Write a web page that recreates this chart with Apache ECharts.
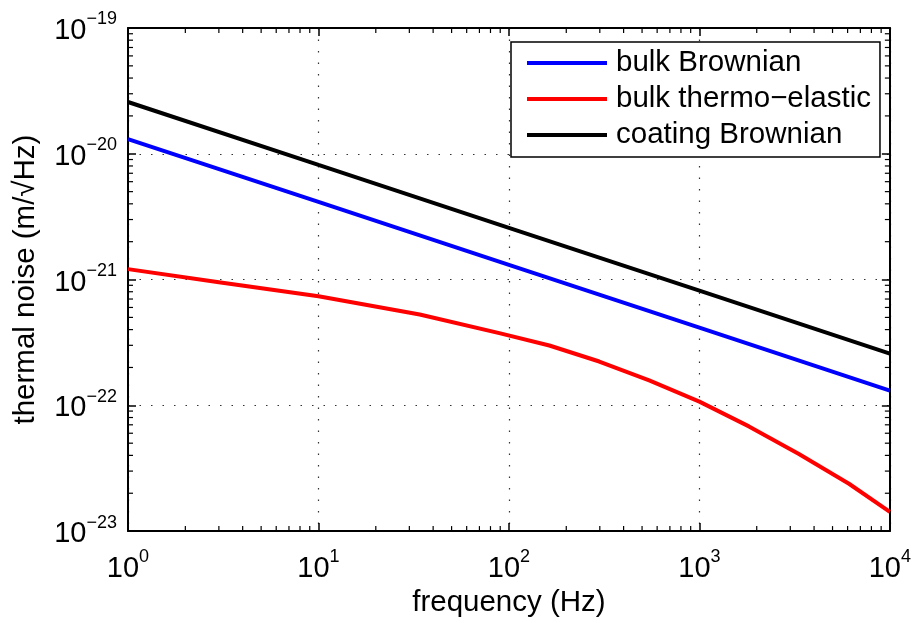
<!DOCTYPE html>
<html><head><meta charset="utf-8">
<script src="https://cdn.jsdelivr.net/npm/echarts@6/dist/echarts.min.js"></script>
<style>html,body{margin:0;padding:0;background:#fff}#c{width:914px;height:623px}</style>
</head><body><div id="c"></div>
<script>
// ---- data ----
const seriesNames = ['bulk Brownian', 'bulk thermo\u2212elastic', 'coating Brownian'];
const freqBrownian = [1, 10, 100, 1000, 10000];
const bulkBrownian = [1.31e-20, 4.15e-21, 1.31e-21, 4.15e-22, 1.31e-22];
const coatingBrownian = [2.58e-20, 8.15e-21, 2.58e-21, 8.15e-22, 2.58e-22];
const freqThermo = [1, 3, 10, 34, 89, 163, 298, 545, 1000, 1820, 3330, 6100, 10000];
const bulkThermoElastic = [1.21e-21, 9.53e-22, 7.36e-22, 5.28e-22, 3.75e-22, 2.99e-22, 2.23e-22, 1.58e-22, 1.07e-22, 6.8e-23, 4.1e-23, 2.38e-23, 1.42e-23];
const xTickValues = [1, 10, 100, 1000, 10000];
const yTickValues = [1e-23, 1e-22, 1e-21, 1e-20, 1e-19];

// ECharts rounds to 20 decimals, so the y axis works in units of 1e-23 m/sqrt(Hz)
const Y_UNIT_EXP = -23;
const toUnit = v => v / Math.pow(10, Y_UNIT_EXP);

const FONT = '"Liberation Sans", Arial, Helvetica, sans-serif';
const pairs = (xs, ys) => xs.map((x, i) => [x, toUnit(ys[i])]);

function expLabel(e) {
  return '{b|10}{e|' + (e < 0 ? '\u2212' + (-e) : e) + '}';
}
const xLabel = v => expLabel(Math.round(Math.log10(v)));
const yLabel = v => expLabel(Math.round(Math.log10(v)) + Y_UNIT_EXP);
const richLab = {
  b: { fontFamily: FONT, fontSize: 29, lineHeight: 35, verticalAlign: 'bottom', color: '#000' },
  e: { fontFamily: FONT, fontSize: 18, lineHeight: 18, verticalAlign: 'top', color: '#000' }
};
const gridLine = { show: true, lineStyle: { color: '#333', width: 1.2, type: [1.5, 10] } };
const axisLn = { show: true, onZero: false, lineStyle: { color: '#000', width: 2 } };
const majorTick = { show: true, inside: true, length: 8, lineStyle: { color: '#000', width: 1.5 } };

const chart = echarts.init(document.getElementById('c'), null, { renderer: 'canvas' });

const yMin = toUnit(yTickValues[0]), yMax = toUnit(yTickValues[yTickValues.length - 1]);
const xMin = xTickValues[0], xMax = xTickValues[xTickValues.length - 1];

const option = {
  animation: false,
  backgroundColor: '#fff',
  grid: { left: 128, right: 23, top: 28, bottom: 85, containLabel: false },
  xAxis: [
    {
      type: 'log', min: xMin, max: xMax, logBase: 10, splitNumber: 4,
      name: 'frequency (Hz)', nameLocation: 'middle', nameGap: 46,
      nameTextStyle: { fontFamily: FONT, fontSize: 29.5, color: '#000' },
      axisLine: axisLn, axisTick: majorTick,
      axisLabel: { margin: 17, formatter: xLabel, rich: richLab },
      splitLine: gridLine
    },
    {
      type: 'log', min: xMin, max: xMax, logBase: 10, splitNumber: 4, position: 'top',
      axisLine: axisLn, axisTick: majorTick,
      axisLabel: { show: false }, splitLine: { show: false }
    }
  ],
  yAxis: [
    {
      type: 'log', min: yMin, max: yMax, logBase: 10, splitNumber: 4,
      name: 'thermal noise (m/\u221aHz)', nameLocation: 'middle', nameGap: 87, nameRotate: 90,
      nameTextStyle: { fontFamily: FONT, fontSize: 29.5, color: '#000' },
      axisLine: axisLn, axisTick: majorTick,
      axisLabel: { margin: 11, formatter: yLabel, rich: richLab },
      splitLine: gridLine
    },
    {
      type: 'log', min: yMin, max: yMax, logBase: 10, splitNumber: 4, position: 'right',
      axisLine: axisLn, axisTick: majorTick,
      axisLabel: { show: false }, splitLine: { show: false }
    }
  ],
  legend: {
    orient: 'vertical', left: 511, top: 42,
    backgroundColor: '#fff', borderColor: '#000', borderWidth: 1.5, borderRadius: 0,
    padding: [5, 9, 6, 16], itemGap: 4, itemWidth: 80, itemHeight: 4, icon: 'rect',
    textStyle: { fontFamily: FONT, fontSize: 29.5, color: '#000', lineHeight: 32, padding: [0, 0, 0, 4] },
    data: seriesNames
  },
  series: [
    { name: seriesNames[0], type: 'line', data: pairs(freqBrownian, bulkBrownian), showSymbol: false, symbol: 'none',
      lineStyle: { color: '#0000ff', width: 4 }, itemStyle: { color: '#0000ff' }, z: 3 },
    { name: seriesNames[1], type: 'line', data: pairs(freqThermo, bulkThermoElastic), showSymbol: false, symbol: 'none',
      smooth: false,
      lineStyle: { color: '#ff0000', width: 4, join: 'round' }, itemStyle: { color: '#ff0000' }, z: 3 },
    { name: seriesNames[2], type: 'line', data: pairs(freqBrownian, coatingBrownian), showSymbol: false, symbol: 'none',
      lineStyle: { color: '#000000', width: 4 }, itemStyle: { color: '#000000' }, z: 3 }
  ]
};
chart.setOption(option);

// minor log ticks (2..9 per decade) placed through the axes' own scales
function addMinorTicks() {
  const g = [];
  const x0 = chart.convertToPixel({ xAxisIndex: 0 }, xMin);
  const x1 = chart.convertToPixel({ xAxisIndex: 0 }, xMax);
  const y0 = chart.convertToPixel({ yAxisIndex: 0 }, yMin);
  const y1 = chart.convertToPixel({ yAxisIndex: 0 }, yMax);
  const L = 5, st = { stroke: '#000', lineWidth: 1.2 };
  for (let k = 0; k < xTickValues.length - 1; k++) {
    for (let m = 2; m <= 9; m++) {
      const px = chart.convertToPixel({ xAxisIndex: 0 }, m * xTickValues[k]);
      g.push({ type: 'line', silent: true, z: 10, shape: { x1: px, y1: y0, x2: px, y2: y0 - L }, style: st });
      g.push({ type: 'line', silent: true, z: 10, shape: { x1: px, y1: y1, x2: px, y2: y1 + L }, style: st });
    }
  }
  for (let k = 0; k < yTickValues.length - 1; k++) {
    for (let m = 2; m <= 9; m++) {
      const py = chart.convertToPixel({ yAxisIndex: 0 }, m * toUnit(yTickValues[k]));
      g.push({ type: 'line', silent: true, z: 10, shape: { x1: x0, y1: py, x2: x0 + L, y2: py }, style: st });
      g.push({ type: 'line', silent: true, z: 10, shape: { x1: x1, y1: py, x2: x1 - L, y2: py }, style: st });
    }
  }
  chart.setOption({ graphic: g });
}
addMinorTicks();
</script>
</body></html>
